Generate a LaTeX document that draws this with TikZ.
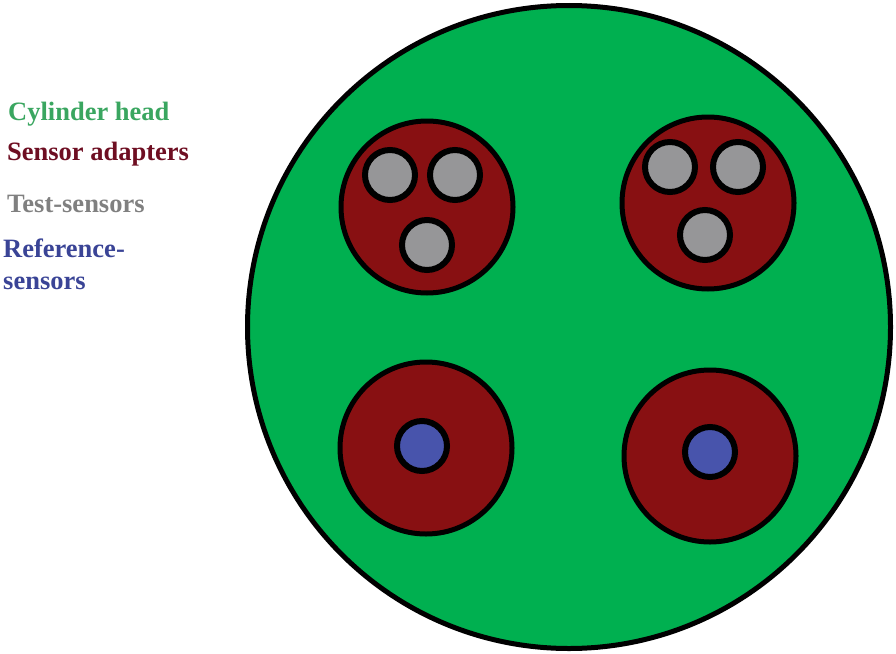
\documentclass[tikz,border=0pt]{standalone}
\usepackage{fontspec}
\setmainfont{Liberation Serif}
\usetikzlibrary{positioning}
\definecolor{headgreen}{RGB}{0,176,80}
\definecolor{adapterred}{RGB}{136,16,18}
\definecolor{testgray}{RGB}{150,150,152}
\definecolor{refblue}{RGB}{72,84,172}
\definecolor{txtgreen}{RGB}{58,166,96}
\definecolor{txtred}{RGB}{110,14,34}
\definecolor{txtgray}{RGB}{128,128,128}
\definecolor{txtblue}{RGB}{58,68,150}

\begin{document}
\begin{tikzpicture}[
  x=1pt,y=-1pt,
  head/.style={circle, draw, line width=5pt, fill=headgreen, minimum size=643pt, inner sep=0pt},
  adapter/.style={circle, draw, line width=5pt, fill=adapterred, minimum size=172pt, inner sep=0pt},
  testsens/.style={circle, draw, line width=6pt, fill=testgray, minimum size=50pt, inner sep=0pt},
  refsens/.style={circle, draw, line width=6pt, fill=refblue, minimum size=50pt, inner sep=0pt},
  legend/.style={anchor=base west, inner sep=0pt, font=\fontsize{26.5}{30}\selectfont\bfseries}
]
\useasboundingbox (0,0) rectangle (896,653);
% cylinder head and adapters
\node[head] (head) at (569,327) {};
\node[adapter] (adtl) at (427,207) {};
\node[adapter] (adtr) at (708,203) {};
\node[adapter] (adbl) at (426,448) {};
\node[adapter] (adbr) at (710,456) {};
% sensors
\node[testsens] (tl1) at (390,175) {}; \node[testsens] (tl2) at (455,175) {}; \node[testsens] (tl3) at (427,245) {};
\node[testsens] (tr1) at (670,167) {}; \node[testsens] (tr2) at (738,167) {}; \node[testsens] (tr3) at (705,235) {};
\node[refsens] (bl1) at (422,446) {};
\node[refsens] (br1) at (710,452) {};
% legend
\node[legend, text=txtgreen] (lhead) at (8,120) {Cylinder head};
\node[legend, text=txtred] (ladapter) at (7,160) {Sensor adapters};
\node[legend, text=txtgray] (ltest) at (7,212) {Test-sensors};
\node[legend, text=txtblue] (lref) at (3,257) {Reference-};
\node[legend, text=txtblue] (lref2) at (3,289) {sensors};
\end{tikzpicture}
\end{document}
